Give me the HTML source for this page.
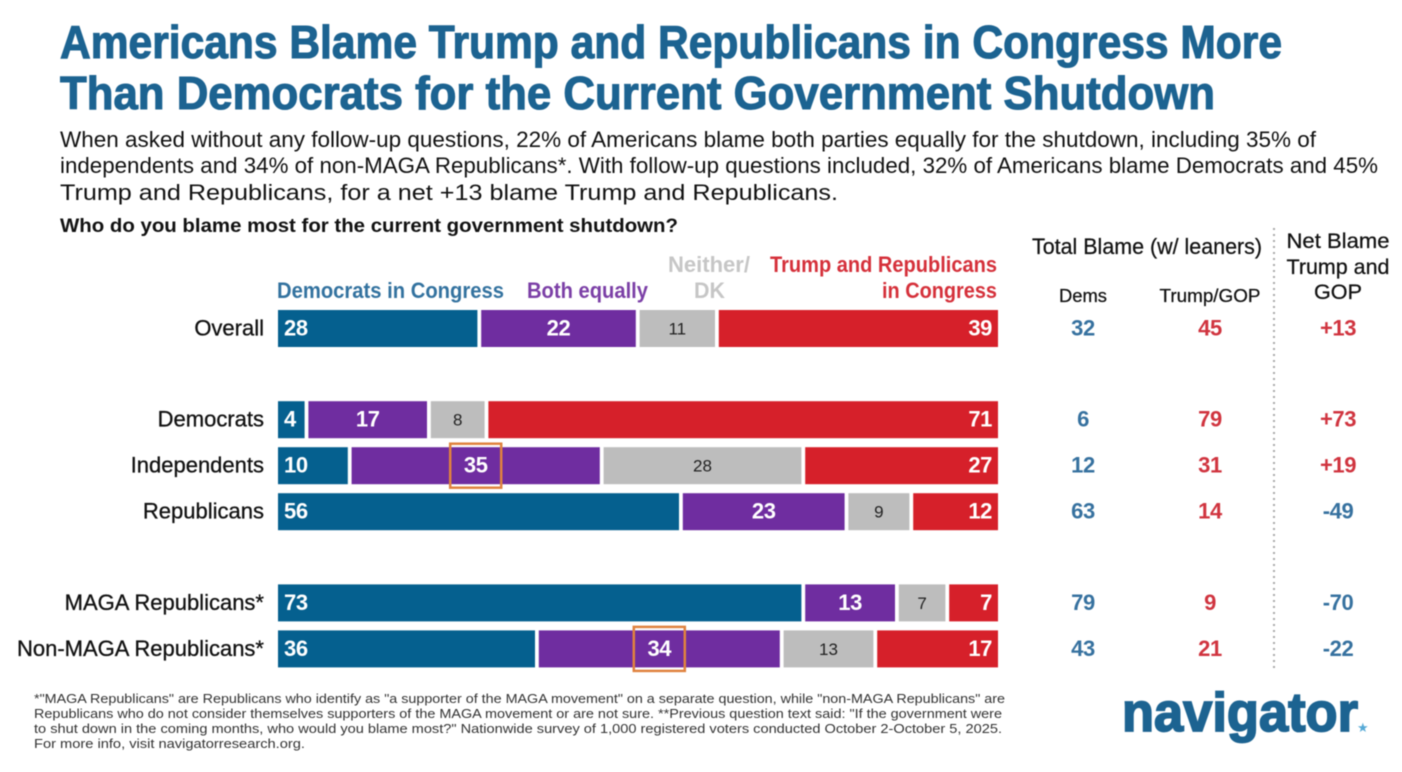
<!DOCTYPE html>
<html lang="en">
<head>
<meta charset="utf-8">
<title>Americans Blame Trump and Republicans in Congress</title>
<style>
html,body{margin:0;padding:0;background:#fff;}
body{width:1402px;height:772px;overflow:hidden;}
svg{display:block;filter:blur(.55px);font-family:"Liberation Sans",sans-serif;}
</style>
</head>
<body>
<svg id="chart" width="1402" height="772" viewBox="0 0 1402 772" xmlns="http://www.w3.org/2000/svg">
  <g fill="#1c6391" stroke="#1c6391" stroke-width="1.1" font-weight="700" font-size="46">
    <text x="60" y="58" textLength="1222" lengthAdjust="spacingAndGlyphs">Americans Blame Trump and Republicans in Congress More</text>
    <text x="60" y="109" textLength="1155" lengthAdjust="spacingAndGlyphs">Than Democrats for the Current Government Shutdown</text>
  </g>
  <g fill="#111" font-size="22">
    <text x="60" y="147" textLength="1256" lengthAdjust="spacingAndGlyphs">When asked without any follow-up questions, 22% of Americans blame both parties equally for the shutdown, including 35% of</text>
    <text x="60" y="173" textLength="1318" lengthAdjust="spacingAndGlyphs">independents and 34% of non-MAGA Republicans*. With follow-up questions included, 32% of Americans blame Democrats and 45%</text>
    <text x="60" y="200" textLength="778" lengthAdjust="spacingAndGlyphs">Trump and Republicans, for a net +13 blame Trump and Republicans.</text>
  </g>
  <text x="60" y="232" fill="#111" font-size="19" font-weight="700" textLength="618" lengthAdjust="spacingAndGlyphs">Who do you blame most for the current government shutdown?</text>

  <g font-size="22" font-weight="700">
    <text x="277" y="298" fill="#33729f" textLength="227" lengthAdjust="spacingAndGlyphs">Democrats in Congress</text>
    <text x="527" y="298" fill="#7b3fa6" textLength="121" lengthAdjust="spacingAndGlyphs">Both equally</text>
    <text x="668" y="272" fill="#c6c6c6" textLength="82" lengthAdjust="spacingAndGlyphs">Neither/</text>
    <text x="694" y="298" fill="#c6c6c6" textLength="31" lengthAdjust="spacingAndGlyphs">DK</text>
    <text x="770" y="272" fill="#d5303a" textLength="227" lengthAdjust="spacingAndGlyphs">Trump and Republicans</text>
    <text x="882" y="298" fill="#d5303a" textLength="115" lengthAdjust="spacingAndGlyphs">in Congress</text>
  </g>

  <g fill="#111" stroke="#111" stroke-width="0.25">
    <text x="1032" y="254" font-size="22" textLength="230" lengthAdjust="spacingAndGlyphs">Total Blame (w/ leaners)</text>
    <text x="1083" y="302" font-size="18" text-anchor="middle" textLength="48" lengthAdjust="spacingAndGlyphs">Dems</text>
    <text x="1210" y="302" font-size="18" text-anchor="middle" textLength="101" lengthAdjust="spacingAndGlyphs">Trump/GOP</text>
    <text x="1338" y="248" font-size="21" text-anchor="middle" textLength="103" lengthAdjust="spacingAndGlyphs">Net Blame</text>
    <text x="1338" y="274" font-size="21" text-anchor="middle" textLength="103" lengthAdjust="spacingAndGlyphs">Trump and</text>
    <text x="1338" y="299" font-size="21" text-anchor="middle" textLength="48" lengthAdjust="spacingAndGlyphs">GOP</text>
  </g>
  <line x1="1274" y1="228" x2="1274" y2="672" stroke="#a9a9a9" stroke-width="2" stroke-dasharray="2 4"></line>

  <g id="bars"></g>
  <g id="categories"></g>
  <g id="totals"></g>

  <g fill="#333" font-size="13">
    <text x="34" y="703" textLength="971" lengthAdjust="spacingAndGlyphs">*"MAGA Republicans" are Republicans who identify as "a supporter of the MAGA movement" on a separate question, while "non-MAGA Republicans" are</text>
    <text x="34" y="718" textLength="968" lengthAdjust="spacingAndGlyphs">Republicans who do not consider themselves supporters of the MAGA movement or are not sure. **Previous question text said: "If the government were</text>
    <text x="34" y="733" textLength="968" lengthAdjust="spacingAndGlyphs">to shut down in the coming months, who would you blame most?" Nationwide survey of 1,000 registered voters conducted October 2-October 5, 2025.</text>
    <text x="34" y="748" textLength="271" lengthAdjust="spacingAndGlyphs">For more info, visit navigatorresearch.org.</text>
  </g>

  <g>
    <text x="1122" y="731" fill="#1c6391" font-size="55" font-weight="700" stroke="#1c6391" stroke-width="1.8" textLength="236" lengthAdjust="spacingAndGlyphs">navigator</text>
    <text x="1357" y="732" fill="#55a9d6" font-size="13">&#9733;</text>
  </g>
</svg>
<script>
const categories = ["Overall", "Democrats", "Independents", "Republicans", "MAGA Republicans*", "Non-MAGA Republicans*"];
const groupIds = [0, 1, 1, 1, 2, 2];
const demsInCongress = [28, 4, 10, 56, 73, 36];
const bothEqually = [22, 17, 35, 23, 13, 34];
const neitherDK = [11, 8, 28, 9, 7, 13];
const trumpAndRepublicans = [39, 71, 27, 12, 7, 17];
const totalDems = [32, 6, 12, 63, 79, 43];
const totalTrump = [45, 79, 31, 14, 9, 21];
const netBlame = [13, 73, 19, -49, -70, -22];
const highlightedBoth = ["Independents", "Non-MAGA Republicans*"];

const SVG_NS = "http://www.w3.org/2000/svg";
const BLUE = "#05608f", PURPLE = "#6f2da0", GRAY = "#bdbdbd", RED = "#d6202a";
const BLUE_TEXT = "#36719f", RED_TEXT = "#d0343f";
const BAR_HEIGHT = 37, GAP_BEFORE = 1.6, GAP_AFTER = 2.2;

function xScale(v) { return 278 + v * 7.2; }
function yScale(i) { return 310 + i * 46 + groupIds[i] * 45.2; }
function fmtNet(v) { return v > 0 ? "+" + v : String(v); }

function addText(parent, name, str, x, y, size, weight, fill, anchor, spacing) {
  const t = document.createElementNS(SVG_NS, "text");
  
  
  t.setAttribute("x", x);
  t.setAttribute("y", y);
  t.setAttribute("font-size", size);
  t.setAttribute("font-weight", weight);
  t.setAttribute("fill", fill);
  t.setAttribute("text-anchor", anchor);
  if (spacing) t.setAttribute("letter-spacing", spacing);
  t.textContent = str;
  parent.appendChild(t);
  return t;
}

const barsG = document.getElementById("bars");
const catG = document.getElementById("categories");
const totG = document.getElementById("totals");

const segments = [
  { key: "dems", values: demsInCongress, color: BLUE },
  { key: "both", values: bothEqually, color: PURPLE },
  { key: "neither", values: neitherDK, color: GRAY },
  { key: "trump", values: trumpAndRepublicans, color: RED }
];

categories.forEach(function (cat, i) {
  const y = yScale(i);
  const mid = y + BAR_HEIGHT / 2;
  let cum = 0;

  segments.forEach(function (seg, s) {
    const v = seg.values[i];
    const isFirst = s === 0;
    const isLast = s === segments.length - 1;
    const x0 = xScale(cum) + (isFirst ? 0 : GAP_BEFORE);
    const x1 = xScale(cum + v) - (isLast ? 0 : GAP_AFTER);
    const r = document.createElementNS(SVG_NS, "rect");
    
    
    r.setAttribute("x", x0);
    r.setAttribute("y", y);
    r.setAttribute("width", Math.max(0, x1 - x0));
    r.setAttribute("height", BAR_HEIGHT);
    r.setAttribute("fill", seg.color);
    barsG.appendChild(r);

    const cx = (x0 + x1) / 2;
    if (seg.key === "dems") {
      addText(barsG, "value-dems", v, x0 + 6, mid + 7, 22, 700, "#fff", "start", "-0.4");
    } else if (seg.key === "both") {
      addText(barsG, "value-both", v, cx, mid + 7, 22, 700, "#fff", "middle", "-0.4");
    } else if (seg.key === "neither") {
      addText(barsG, "value-neither", v, cx, mid + 6, 17, 400, "#222", "middle");
    } else {
      addText(barsG, "value-trump", v, x1 - 6, mid + 7, 22, 700, "#fff", "end", "-0.4");
    }

    if (seg.key === "both" && highlightedBoth.indexOf(cat) !== -1) {
      const h = document.createElementNS(SVG_NS, "rect");
      
      
      h.setAttribute("x", cx - 25.5);
      h.setAttribute("y", y - 3.5);
      h.setAttribute("width", 51);
      h.setAttribute("height", 44);
      h.setAttribute("fill", "none");
      h.setAttribute("stroke", "#e0823f");
      h.setAttribute("stroke-width", 2.5);
      barsG.appendChild(h);
    }
    cum += v;
  });

  const label = addText(catG, "category-label", cat, 264, mid + 7, 22, 400, "#111", "end");
  label.setAttribute("stroke", "#111");
  label.setAttribute("stroke-width", "0.3");
  addText(totG, "total-dems-value", totalDems[i], 1083, mid + 7, 22, 700, BLUE_TEXT, "middle", "-0.4");
  addText(totG, "total-trump-value", totalTrump[i], 1210, mid + 7, 22, 700, RED_TEXT, "middle", "-0.4");
  addText(totG, "net-blame-value", fmtNet(netBlame[i]), 1338, mid + 7, 22, 700, netBlame[i] > 0 ? RED_TEXT : BLUE_TEXT, "middle", "-0.4");
});
</script>
</body>
</html>
